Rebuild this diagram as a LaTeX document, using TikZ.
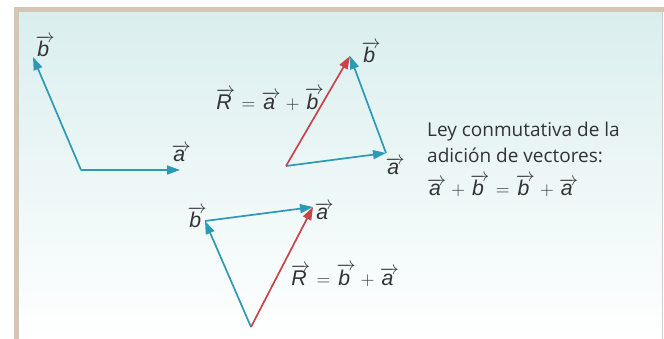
\RequirePackage{fix-cm}
\documentclass[tikz,border=0pt]{standalone}
\usepackage{fontspec}
\setmainfont{Open Sans}
\newfontfamily\vecfont[Scale=1.12]{Liberation Sans}
\usetikzlibrary{arrows.meta}
\definecolor{vteal}{HTML}{2C9AB4}
\definecolor{vred}{HTML}{C9434B}
\definecolor{frametan}{HTML}{D4C6B2}
\definecolor{bgtop}{HTML}{DAEEEE}
\definecolor{txt}{HTML}{333333}
\newcommand{\vv}[1]{\overrightarrow{\mbox{\vecfont\itshape #1\,}}}
\newcommand{\veq}[1]{\ensuremath{\medmuskip=5mu\thickmuskip=6mu #1}}
\tikzset{
  vec/.style={line width=1.7pt,-{Triangle[length=13pt,width=9pt]}},
  blue vec/.style={vec,draw=vteal},
  red vec/.style={vec,draw=vred},
  lbl/.style={text=txt,font=\fontsize{19}{26}\selectfont,inner sep=0pt},
}
\begin{document}
\begin{tikzpicture}[x=1pt,y=-1pt]
\useasboundingbox (0,0) rectangle (664,339);
\fill[white] (0,0) rectangle (664,339);
\shade[top color=bgtop,bottom color=white] (17,10) rectangle (662,339);
\fill[frametan] (14,7) rectangle (664,12);
\fill[frametan] (14,7) rectangle (19,339);
\draw[gray!40,line width=0.8pt] (662,12) -- (662,339);
% figure 1
\coordinate (o1) at (81,170);
\coordinate (a1) at (180,170);
\coordinate (b1) at (33,57);
\draw[blue vec] (o1) -- (a1);
\draw[blue vec] (o1) -- (b1);
\node[lbl] (lb1) at (45,46) {\veq{\vv{b}}};
\node[lbl] (la1) at (181,153) {\veq{\vv{a}}};
% figure 2
\coordinate (o2) at (286,166);
\coordinate (a2) at (386,153);
\coordinate (b2) at (350,56);
\draw[blue vec] (o2) -- (a2);
\draw[blue vec] (a2) -- (b2);
\draw[red vec] (o2) -- (b2);
\node[lbl] (lb2) at (371,52) {\veq{\vv{b}}};
\node[lbl] (la2) at (395,166) {\veq{\vv{a}}};
\node[lbl] (lr2) at (270,99) {\veq{\vv{R}=\vv{a}+\vv{b}}};
% figure 3
\coordinate (o3) at (251,327);
\coordinate (b3) at (205,221);
\coordinate (a3) at (313,207);
\draw[blue vec] (o3) -- (b3);
\draw[blue vec] (b3) -- (a3);
\draw[red vec] (o3) -- (a3);
\node[lbl] (lb3) at (197,217) {\veq{\vv{b}}};
\node[lbl] (la3) at (324,211) {\veq{\vv{a}}};
\node[lbl] (lr3) at (345,275) {\veq{\vv{R}=\vv{b}+\vv{a}}};
% text
\node[lbl,anchor=north west,align=left] (ley) at (427,122) {Ley conmutativa de la\\adición de vectores:\\[7pt]\veq{\vv{a}+\vv{b}=\vv{b}+\vv{a}}};
\end{tikzpicture}
\end{document}
